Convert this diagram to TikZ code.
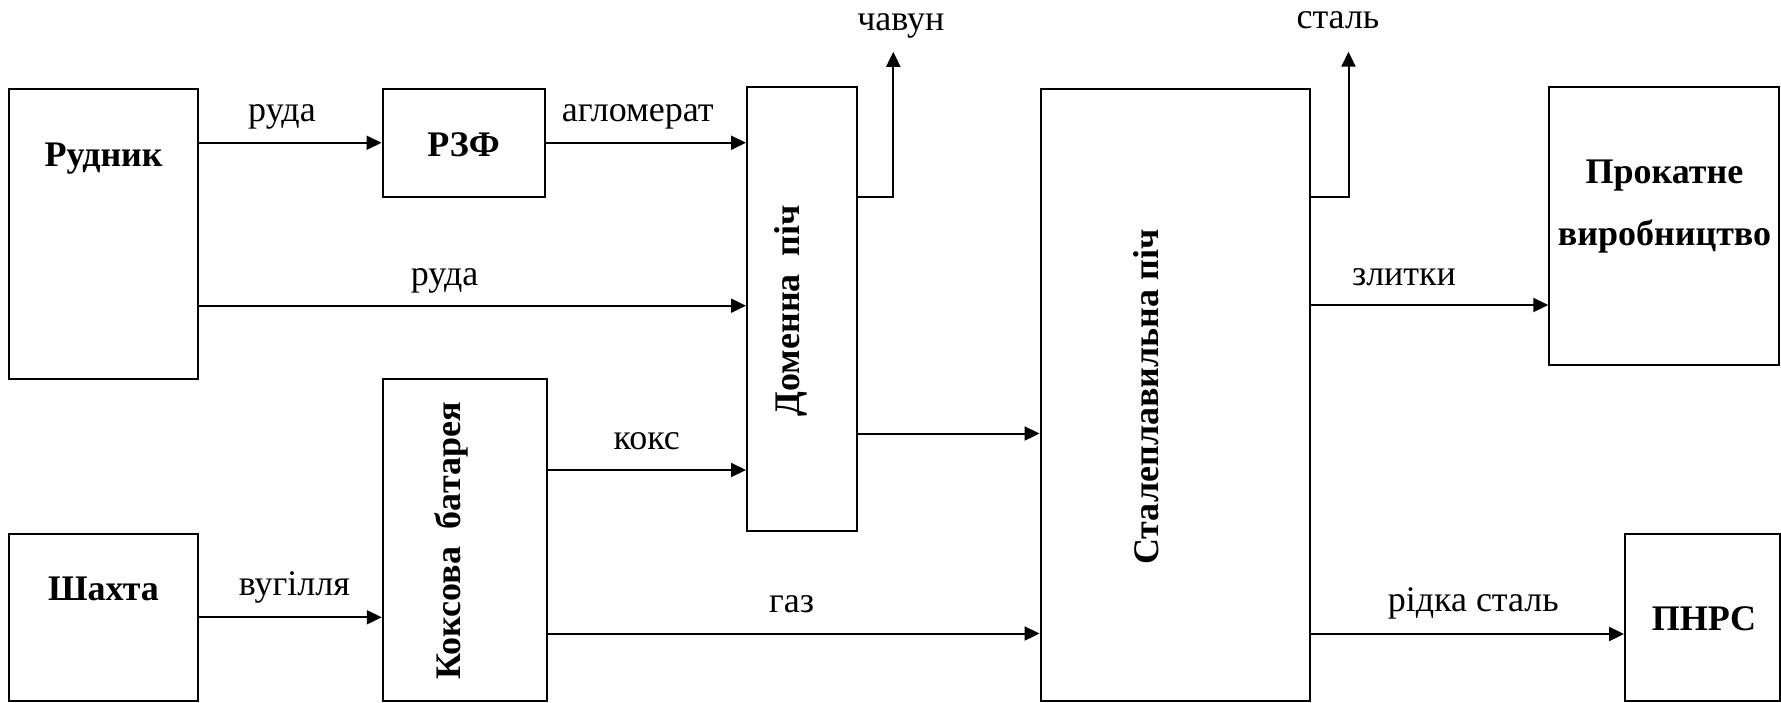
\documentclass[tikz,border=0pt]{standalone}
\usepackage{fontspec}
\setmainfont{Liberation Serif}
\usetikzlibrary{arrows.meta}
\begin{document}
\begin{tikzpicture}[x=1pt,y=1pt,
  box/.style={draw,line width=2pt,inner sep=0pt,rectangle},
  arr/.style={line width=2pt,-{Triangle[length=15pt,width=14pt]}},
  lbl/.style={anchor=base,inner sep=0pt,font=\fontsize{36pt}{43pt}\selectfont},
  blbl/.style={anchor=base,inner sep=0pt,font=\fontsize{36pt}{43pt}\selectfont\bfseries},
]
\useasboundingbox (0,0) rectangle (1781,-702);

% boxes
\node[box,minimum width=189pt,minimum height=290pt] (rud) at (103.5,-234) {};
\node[box,minimum width=162pt,minimum height=107.5pt] (rzf) at (463.5,-142.75) {};
\node[box,minimum width=110pt,minimum height=444pt] (dom) at (802,-309) {};
\node[box,minimum width=164.5pt,minimum height=322pt] (koks) at (465,-539.5) {};
\node[box,minimum width=189pt,minimum height=166.7pt] (sha) at (103.6,-617.3) {};
\node[box,minimum width=269.5pt,minimum height=611.4pt] (stal) at (1175.3,-395) {};
\node[box,minimum width=230pt,minimum height=278pt] (prok) at (1664.3,-226) {};
\node[box,minimum width=154.5pt,minimum height=166.7pt] (pnrs) at (1702.3,-617.3) {};

% box texts
\node[blbl] (rudt) at (103.6,-166) {Рудник};
\node[blbl] (rzft) at (463.5,-156.7) {РЗФ};
\node[blbl] (shat) at (103.6,-600.7) {Шахта};
\node[blbl] (prokt1) at (1664.5,-183.3) {Прокатне};
\node[blbl] (prokt2) at (1664.5,-245) {виробництво};
\node[blbl] (pnrst) at (1704,-630.7) {ПНРС};
\node[blbl,rotate=90] (domt) at (799,-310.7) {Доменна\ \ піч};
\node[blbl,rotate=90] (kokst) at (460,-541) {Коксова\ \ батарея};
\node[blbl,rotate=90] (stalt) at (1158,-397) {Сталеплавильна піч};

% free ends
\coordinate (chav) at (893.3,-51.8);
\coordinate (stup) at (1348.5,-51.7);

% connectors
\draw[arr] (rud.east |- rzf.west) -- (rzf.west);
\draw[arr] (rzf.east) -- (rzf.east -| dom.west);
\draw[arr] (rud.east |- 0,-305.7) -- (dom.west |- 0,-305.7);
\draw[arr] (koks.east |- 0,-470) -- (dom.west |- 0,-470);
\draw[arr] (sha.east) -- (sha.east -| koks.west);
\draw[arr] (koks.east |- 0,-633.5) -- (stal.west |- 0,-633.5);
\draw[arr] (dom.east |- 0,-433.5) -- (stal.west |- 0,-433.5);
\draw[arr] (dom.east |- 0,-196.5) -| (chav);
\draw[arr] (stal.east |- 0,-196.7) -| (stup);
\draw[arr] (stal.east |- 0,-305) -- (prok.west |- 0,-305);
\draw[arr] (stal.east |- 0,-634) -- (pnrs.west |- 0,-634);

% connector labels
\node[lbl] (l1) at (282,-121.7) {руда};
\node[lbl] (l2) at (637.8,-121.4) {агломерат};
\node[lbl] (l3) at (444.6,-285) {руда};
\node[lbl] (l4) at (646.7,-449) {кокс};
\node[lbl] (l5) at (294.3,-595) {вугілля};
\node[lbl] (l6) at (791.7,-612) {газ};
\node[lbl] (l7) at (900.8,-30.4) {чавун};
\node[lbl] (l8) at (1338,-28.3) {сталь};
\node[lbl] (l9) at (1404,-285) {злитки};
\node[lbl] (l10) at (1473.3,-611.7) {рідка сталь};
\end{tikzpicture}
\end{document}
